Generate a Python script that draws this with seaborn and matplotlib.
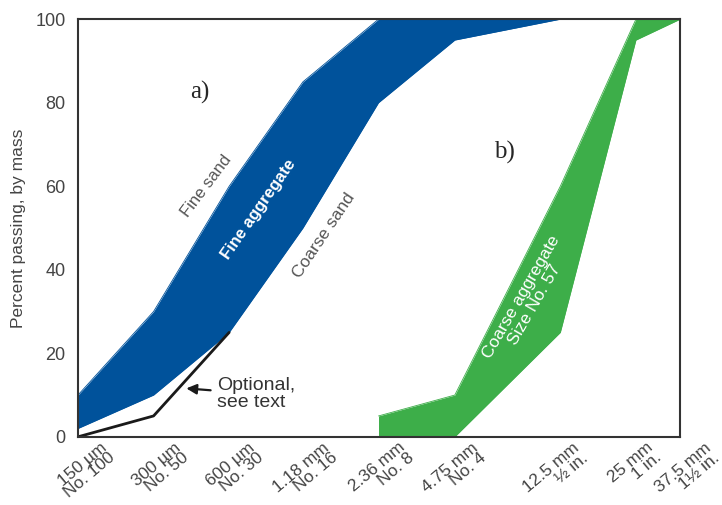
import matplotlib
matplotlib.use("Agg")
import matplotlib.pyplot as plt
import matplotlib.transforms as mtrans
import seaborn as sns

# --------------------------------------------------
# Data (sieve sizes in mm, percent passing)
# --------------------------------------------------
sieve_mm = [0.15, 0.3, 0.6, 1.18, 2.36, 4.75, 12.5, 25, 37.5]
sieve_labels = ["150 µm\nNo. 100", "300 µm\nNo. 50", "600 µm\nNo. 30",
                "1.18 mm\nNo. 16", "2.36 mm\nNo. 8", "4.75 mm\nNo. 4",
                "12.5 mm\n½ in.", "25 mm\n1 in.", "37.5 mm\n1½ in."]

fine_x = [0.15, 0.3, 0.6, 1.18, 2.36, 4.75, 12.5]
fine_upper = [10, 30, 60, 85, 100, 100, 100]
fine_lower = [2, 10, 25, 50, 80, 95, 100]

coarse_x = [2.36, 4.75, 12.5, 25, 37.5]
coarse_upper = [5, 10, 60, 100, 100]
coarse_lower = [0, 0, 25, 95, 100]

optional_x = [0.15, 0.3, 0.6]
optional_y = [0, 5, 25]

BLUE = "#00529B"
GREEN = "#3DAE49"
GRAY = "#444444"

sns.set_style("white")
plt.rcParams["font.family"] = ["Liberation Sans", "DejaVu Sans"]

fig = plt.figure(figsize=(7.22, 5.05), dpi=100)
ax = fig.add_axes([0.108, 0.135, 0.834, 0.827])

# --------------------------------------------------
# Bands
# --------------------------------------------------
ax.fill_between(fine_x, fine_lower, fine_upper, color=BLUE, lw=0)
ax.fill_between(coarse_x, coarse_lower, coarse_upper, color=GREEN, lw=0)
sns.lineplot(x=fine_x, y=fine_upper, color=BLUE, lw=0.6, ax=ax)
sns.lineplot(x=fine_x, y=fine_lower, color=BLUE, lw=0.6, ax=ax)
sns.lineplot(x=coarse_x, y=coarse_upper, color=GREEN, lw=0.6, ax=ax)
sns.lineplot(x=coarse_x, y=coarse_lower, color=GREEN, lw=0.6, ax=ax)
sns.lineplot(x=optional_x, y=optional_y, color="#1a1a1a", lw=2, ax=ax)

ax.set_xscale("log")
ax.set_xlim(0.15, 37.5)
ax.set_ylim(0, 100)

# --------------------------------------------------
# Axes styling
# --------------------------------------------------
ax.set_xticks(sieve_mm)
ax.set_xticklabels(sieve_labels)
ax.minorticks_off()
ax.set_yticks([0, 20, 40, 60, 80, 100])
ax.tick_params(axis="y", direction="in", length=12, width=1.5, color="#333333",
               labelsize=13, labelcolor=GRAY, pad=9)
ax.tick_params(axis="x", direction="in", length=9, width=1.5, color="#333333",
               labelsize=12.5, labelcolor=GRAY, pad=0)
for spine in ax.spines.values():
    spine.set_color("#333333")
    spine.set_linewidth(1.5)

# label shifts (pixels to the right of each tick), hand-placed in the original
shift_px = [22, 20, 19, 19, 20, 16, 12, 10, 24]
for lab, dx in zip(ax.get_xticklabels(), shift_px):
    lab.set_rotation(40)
    lab.set_ha("right")
    lab.set_va("top")
    lab.set_rotation_mode("anchor")
    lab.set_multialignment("right")
    lab.set_linespacing(0.85)
    off = mtrans.ScaledTranslation(dx / 100, -0.03, fig.dpi_scale_trans)
    lab.set_transform(lab.get_transform() + off)

ax.set_ylabel("Percent passing, by mass", fontsize=12.5, color=GRAY)
ax.yaxis.set_label_coords(-0.087, 0.5)

# --------------------------------------------------
# Annotations
# --------------------------------------------------
ax.text(0.485, 60, "Fine sand", rotation=53, color="#555555", fontsize=12,
        ha="center", va="center")
ax.text(0.79, 54.5, "Fine aggregate", rotation=55, color="white", fontsize=12,
        fontweight="bold", ha="center", va="center")
ax.text(1.43, 48.3, "Coarse sand", rotation=56, color="#555555", fontsize=12.5,
        ha="center", va="center")
ax.text(9.3, 32.5, "Coarse aggregate\nSize No. 57", rotation=60, color="white",
        fontsize=12.5, ha="center", va="center", linespacing=1.0)

ax.text(0.46, 82.5, "a)", fontsize=18, family="Liberation Serif",
        ha="center", va="center")
ax.text(7.5, 68, "b)", fontsize=18, family="Liberation Serif",
        ha="center", va="center")

ax.annotate("Optional,\nsee text", xy=(0.405, 11.6), xytext=(0.535, 10.3),
            fontsize=14, color="#333333", ha="left", va="center",
            linespacing=1.0,
            arrowprops=dict(arrowstyle="-|>", color="#1a1a1a", lw=1.6,
                            mutation_scale=15, shrinkA=2, shrinkB=0))

plt.savefig("out.png", dpi=100)
